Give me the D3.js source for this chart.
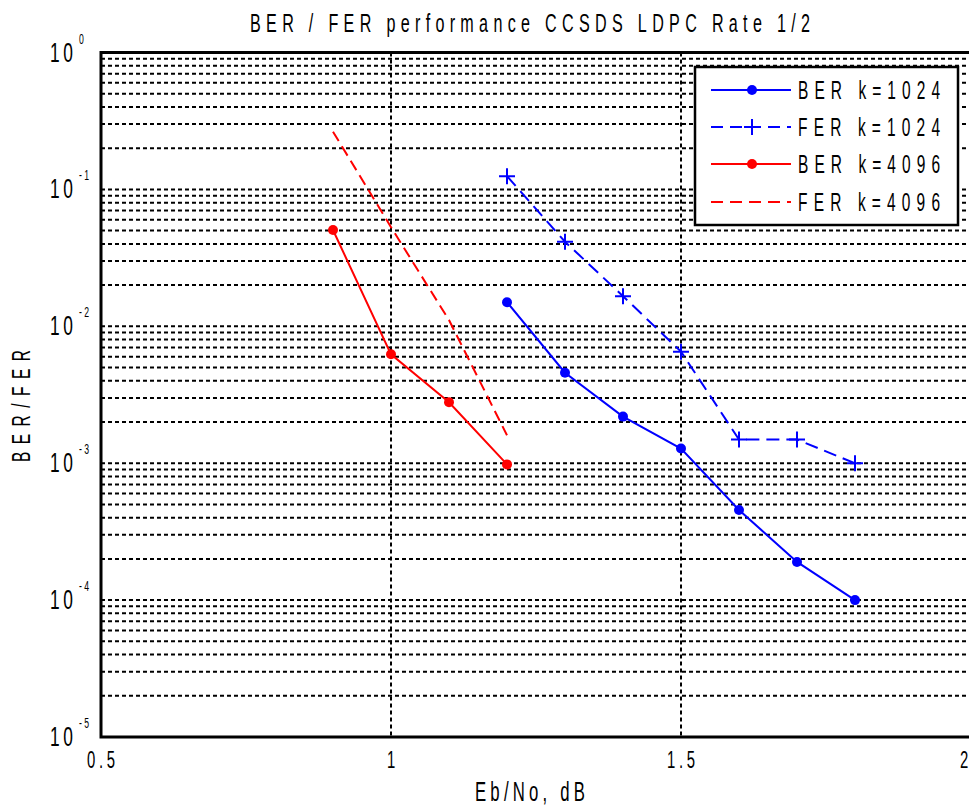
<!DOCTYPE html>
<html>
<head>
<meta charset="utf-8">
<script src="https://cdn.jsdelivr.net/npm/d3@7"></script>
<style>
  body { margin: 0; background: #fff; }
  svg { display: block; }
  text { font-family: "Liberation Sans", Arial, sans-serif; fill: #000; }
</style>
</head>
<body>
<div id="chart"></div>
<script>
// data
const ebno1024 = [1.2, 1.3, 1.4, 1.5, 1.6, 1.7, 1.8];
const ber1024 = [0.015, 0.00458, 0.00219, 0.00128, 0.000455, 0.00019, 0.0001];
const fer1024 = [0.125, 0.0415, 0.0166, 0.00653, 0.00149, 0.00149, 0.000998];
const ebno4096 = [0.9, 1.0, 1.1, 1.2];
const ber4096 = [0.0505, 0.00624, 0.00279, 0.00098];
const fer4096 = [0.264, 0.053, 0.0111, 0.0016];

const xTicks = [0.5, 1, 1.5, 2];
const xTickLabels = ['0.5', '1', '1.5', '2'];
const yExponents = [0, -1, -2, -3, -4, -5];
const legendLabels = ['BER k=1024', 'FER k=1024', 'BER k=4096', 'FER k=4096'];

const W = 969;
const H = 809;
const SX = 0.62; // narrow glyphs

const svg = d3.select('#chart').append('svg')
  .attr('width', W)
  .attr('height', H);

const x = d3.scaleLinear().domain([0.5, 2]).range([101, 971]);
const y = d3.scaleLog().domain([1, 1e-5]).range([52.5, 737]);

// squeezed text, stretched by spacing like the original
function stext(parent, px, py, str, size, width, rotate) {
  const g = parent.append('g')
    .attr('transform', `translate(${px},${py})${rotate ? ' rotate(-90)' : ''}`);
  const t = g.append('text')
    .attr('transform', `scale(${SX},1)`)
    .attr('font-size', size)
    .text(str);
  if (width) {
    t.attr('textLength', width / SX).attr('lengthAdjust', 'spacing');
  }
  return t;
}

// grid
const grid = svg.append('g').attr('class', 'grid');
const minor = [];
for (let e = -5; e < 0; e += 1) {
  for (let m = 1; m < 10; m += 1) minor.push(m * Math.pow(10, e));
}
grid.selectAll('.hline')
  .data(minor)
  .enter()
  .append('line')
  .attr('x1', x(0.5))
  .attr('x2', W + 5)
  .attr('y1', d => y(d))
  .attr('y2', d => y(d))
  .attr('stroke', '#000')
  .attr('stroke-width', 2)
  .attr('stroke-dasharray', '4,3');
grid.selectAll('.vline')
  .data(xTicks.slice(1))
  .enter()
  .append('line')
  .attr('x1', d => x(d))
  .attr('x2', d => x(d))
  .attr('y1', y(1))
  .attr('y2', y(1e-5))
  .attr('stroke', '#000')
  .attr('stroke-width', 2)
  .attr('stroke-dasharray', '4,3');

// axes box (left, top, bottom)
svg.append('path')
  .attr('d', `M${W + 5},${y(1)}H${x(0.5)}V${y(1e-5)}H${W + 5}`)
  .attr('fill', 'none')
  .attr('stroke', '#000')
  .attr('stroke-width', 3);

// series
const line = d3.line().x(d => x(d[0])).y(d => y(d[1]));
const zip = (xs, ys) => xs.map((v, i) => [v, ys[i]]);

const series = [
  { pts: zip(ebno1024, ber1024), color: '#0000ff', dash: null, marker: 'dot' },
  { pts: zip(ebno1024, fer1024), color: '#0000ff', dash: '13,7', marker: 'plus' },
  { pts: zip(ebno4096, ber4096), color: '#ff0000', dash: null, marker: 'dot' },
  { pts: zip(ebno4096, fer4096), color: '#ff0000', dash: '11,6', marker: null },
];

series.forEach((s) => {
  svg.append('path')
    .datum(s.pts)
    .attr('d', line)
    .attr('fill', 'none')
    .attr('stroke', s.color)
    .attr('stroke-width', 2)
    .attr('stroke-dasharray', s.dash);
  if (s.marker === 'dot') {
    svg.selectAll(null)
      .data(s.pts)
      .enter()
      .append('circle')
      .attr('cx', d => x(d[0]))
      .attr('cy', d => y(d[1]))
      .attr('r', 5)
      .attr('fill', s.color);
  } else if (s.marker === 'plus') {
    svg.selectAll(null)
      .data(s.pts)
      .enter()
      .append('path')
      .attr('d', d => `M${x(d[0]) - 8},${y(d[1])}h16M${x(d[0])},${y(d[1]) - 8}v16`)
      .attr('stroke', s.color)
      .attr('stroke-width', 2);
  }
});

// y tick labels 10^n
yExponents.forEach((e) => {
  const yy = y(Math.pow(10, e));
  stext(svg, 50, yy + 9, '10', 28, 23);
  stext(svg, 79, yy - 9, e === 0 ? '0' : String(e), 14, e === 0 ? null : 10);
});

// x tick labels
xTicks.forEach((t, i) => {
  const lbl = xTickLabels[i];
  const w = lbl.length > 1 ? 28 : null;
  let tx = lbl.length > 1 ? x(t) - 14 : x(t) - 4;
  tx = Math.min(tx, W - 9);
  stext(svg, tx, 768, lbl, 24, w);
});

// titles
stext(svg, 250, 32, 'BER / FER performance  CCSDS LDPC Rate 1/2', 26, 560);
stext(svg, 475, 801, 'Eb/No, dB', 27, 110);
stext(svg, 30, 462, 'BER/FER', 25, 112, true);

// legend
const lg = svg.append('g').attr('class', 'legend');
lg.append('rect')
  .attr('x', 695)
  .attr('y', 67)
  .attr('width', 263)
  .attr('height', 158)
  .attr('fill', '#fff')
  .attr('stroke', '#000')
  .attr('stroke-width', 2.5);
const rows = [90, 127, 164, 202];
series.forEach((s, i) => {
  const ry = rows[i];
  lg.append('line')
    .attr('x1', 711)
    .attr('x2', 791)
    .attr('y1', ry)
    .attr('y2', ry)
    .attr('stroke', s.color)
    .attr('stroke-width', 2)
    .attr('stroke-dasharray', s.dash ? '12,7' : null);
  if (s.marker === 'dot') {
    lg.append('circle').attr('cx', 752).attr('cy', ry).attr('r', 5).attr('fill', s.color);
  } else if (s.marker === 'plus') {
    lg.append('path')
      .attr('d', `M744,${ry}h16M752,${ry - 8}v16`)
      .attr('stroke', s.color)
      .attr('stroke-width', 2);
  }
  stext(lg, 798, ry + 9, legendLabels[i], 25, 142);
});
</script>
</body>
</html>
